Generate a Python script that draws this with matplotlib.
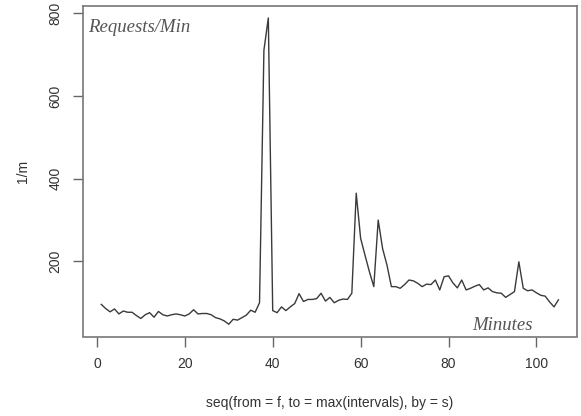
import matplotlib
matplotlib.use("Agg")
import matplotlib.pyplot as plt

minutes = list(range(1, 106))
requests = [
    96, 86, 78, 85, 73, 80, 77, 77, 69, 62,
    71, 76, 65, 79, 71, 68, 71, 73, 71, 68,
    73, 83, 73, 74, 74, 71, 64, 61, 56, 48,
    60, 58, 64, 70, 82, 77, 100, 711, 789, 81,
    76, 90, 81, 90, 98, 122, 103, 108, 108, 110,
    123, 104, 113, 100, 106, 109, 108, 123, 365, 256,
    215, 175, 139, 300, 231, 191, 139, 139, 135, 144,
    155, 153, 147, 139, 145, 144, 155, 131, 163, 165,
    148, 136, 155, 131, 135, 140, 144, 131, 136, 127,
    124, 123, 113, 120, 127, 199, 135, 129, 131, 124,
    118, 116, 102, 90, 107,
]
x_ticks = [0, 20, 40, 60, 80, 100]
y_ticks = [200, 400, 600, 800]

W, H = 581, 416
fig = plt.figure(figsize=(W / 100, H / 100), dpi=100)
left, right, top, bottom = 83, 576.7, 5.7, 336.5
ax = fig.add_axes([left / W, 1 - bottom / H, (right - left) / W, (bottom - top) / H])

ax.plot(minutes, requests, color="#3a3a3a", lw=1.0)

xr = max(minutes) - min(minutes)
yr = max(requests) - min(requests)
ax.set_xlim(min(minutes) - 0.04 * xr, max(minutes) + 0.04 * xr)
ax.set_ylim(min(requests) - 0.04 * yr, max(requests) + 0.04 * yr)

for s in ax.spines.values():
    s.set_color("#777777")
    s.set_linewidth(1.2)

ax.set_xticks(x_ticks)
ax.set_yticks(y_ticks)
ax.tick_params(axis="both", direction="out", length=7, width=1.0, color="#666666",
               labelsize=10, labelcolor="#333333")
ax.tick_params(axis="x", pad=8)
ax.tick_params(axis="y", pad=8)
for lab in ax.get_yticklabels():
    lab.set_rotation(90)
    lab.set_va("center")
for lab in ax.get_xticklabels() + ax.get_yticklabels():
    lab.set_family("Liberation Sans")

ax.set_xlabel("seq(from = f, to = max(intervals), by = s)", fontsize=10,
              family="Liberation Sans", color="#333333", labelpad=18)
ax.set_ylabel("1/m", fontsize=10, family="Liberation Sans", color="#333333", labelpad=13)

ax.text(88 / W, 1 - 28 / H, "Requests/Min", transform=fig.transFigure,
        fontsize=13.5, family="Liberation Serif", style="italic", color="#555555",
        ha="left", va="center")
ax.text(533 / W, 1 - 325 / H, "Minutes", transform=fig.transFigure,
        fontsize=13.5, family="Liberation Serif", style="italic", color="#555555",
        ha="right", va="center")

fig.savefig("out.png", dpi=100)
